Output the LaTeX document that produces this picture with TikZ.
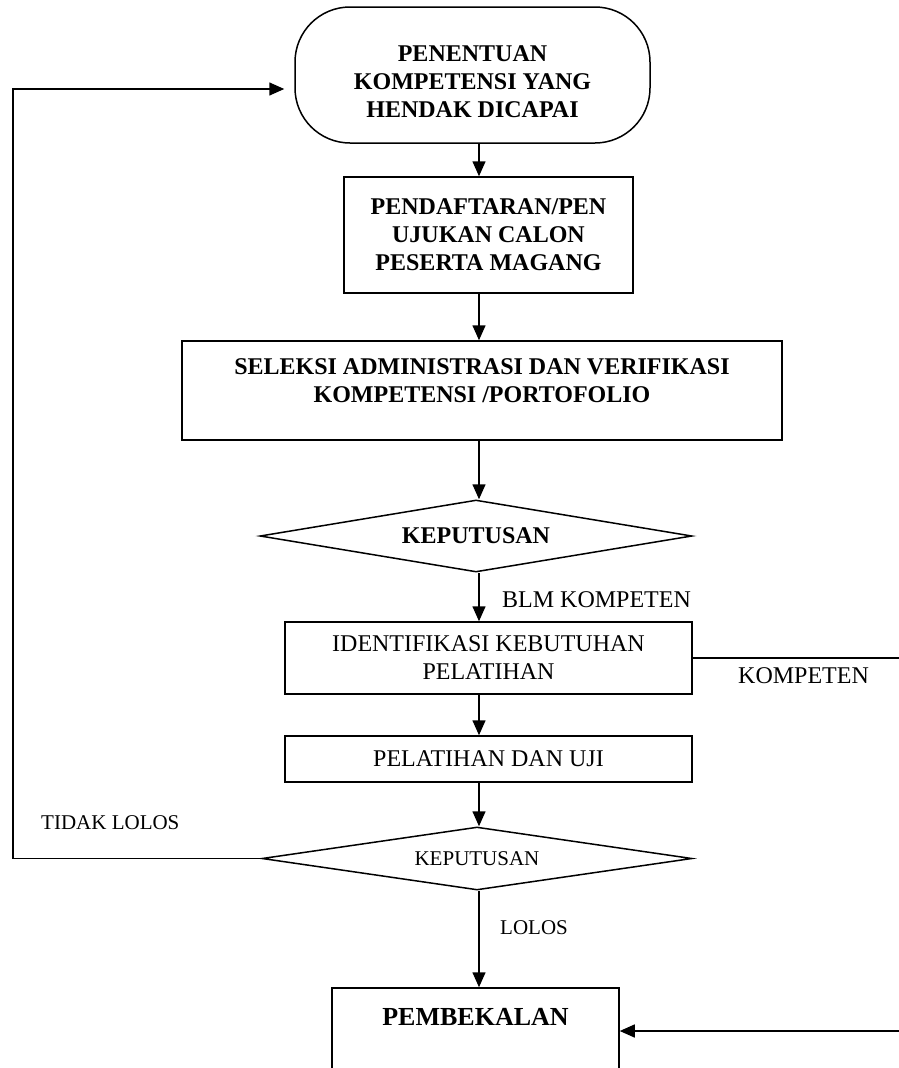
\documentclass[tikz,border=0pt]{standalone}
\usepackage{fontspec}
\setmainfont{Liberation Serif}
\usepackage{tikz}
\usetikzlibrary{shapes}
\usetikzlibrary{shapes.geometric}
\usetikzlibrary{arrows.meta}
\usetikzlibrary{calc}

\tikzset{
  box/.style={draw, line width=1.5pt, inner sep=0pt},
  garis/.style={line width=1.5pt},
  arr/.style={line width=1.5pt, -{Triangle[length=15pt,width=13pt]}},
  tebal/.style={font=\fontsize{24pt}{28pt}\selectfont\bfseries, align=center},
  biasa/.style={font=\fontsize{24pt}{28pt}\selectfont, align=center},
  kecil/.style={font=\fontsize{21pt}{25pt}\selectfont},
  ket/.style={inner sep=0pt, anchor=west},
}

\begin{document}
\begin{tikzpicture}[x=1pt,y=-1pt]
\useasboundingbox (0,0) rectangle (899,1068);
\clip (0,0) rectangle (899,1068);
\coordinate (ax) at (479,0);

\node[box, rounded corners=55pt] (tentu) at (472.5,75) [minimum width=355pt, minimum height=136pt,
  label={[tebal, yshift=-7pt]center:PENENTUAN\\KOMPETENSI YANG\\HENDAK DICAPAI}] {};
\node[box, tebal] (daftar) at (488.5,235) [minimum width=289pt, minimum height=116pt]
  {PENDAFTARAN/PEN\\UJUKAN CALON\\PESERTA MAGANG};
\node[box] (seleksi) at (482,390.5) [minimum width=600pt, minimum height=99pt,
  label={[tebal, yshift=9.5pt]center:SELEKSI ADMINISTRASI DAN VERIFIKASI\\KOMPETENSI /PORTOFOLIO}] {};
\node[box, diamond, aspect=6, tebal] (dec1) at (476,536) [minimum width=432pt, minimum height=72pt] {KEPUTUSAN};
\node[box, biasa] (identif) at (488.5,658) [minimum width=407pt, minimum height=72pt]
  {IDENTIFIKASI KEBUTUHAN\\PELATIHAN};
\node[box, biasa] (latih) at (488.5,759) [minimum width=407pt, minimum height=46pt] {PELATIHAN DAN UJI};
\node[box, diamond, aspect=6, kecil] (dec2) at (477,858.5) [minimum width=430pt, minimum height=63pt] {KEPUTUSAN};
\node[box] (bekal) at (475.5,1058) [minimum width=287pt, minimum height=140pt,
  label={[font=\fontsize{26pt}{30pt}\selectfont\bfseries, yshift=41pt]center:PEMBEKALAN}] {};

\draw[arr] (tentu.south -| ax) -- (daftar.north -| ax);
\draw[arr] (daftar.south -| ax) -- (seleksi.north -| ax);
\draw[arr] (seleksi.south -| ax) -- (dec1.north -| ax);
\draw[arr] (dec1.south -| ax) -- (identif.north -| ax);
\draw[arr] (identif.south -| ax) -- (latih.north -| ax);
\draw[arr] (latih.south -| ax) -- (dec2.north -| ax);
\draw[arr] (dec2.south -| ax) -- (bekal.north -| ax);

\node[biasa, ket] (blm) at (502,600) {BLM KOMPETEN};
\node[biasa, ket] (komp) at (738,676) {KOMPETEN};
\node[kecil, ket] (tdk) at (41,823) {TIDAK LOLOS};
\node[kecil, ket] (lolos) at (500,928) {LOLOS};

\coordinate (kanan1) at (899,658);
\draw[garis] (identif.east) -- (kanan1);
\coordinate (kanan2) at (899,1031);
\draw[arr] (kanan2) -- (kanan2 -| bekal.east);
\coordinate (kiri) at (13,89);
\draw[arr, shorten >=10pt] (dec2.west) -| (kiri) -- (kiri -| tentu.west);
\end{tikzpicture}
\end{document}
